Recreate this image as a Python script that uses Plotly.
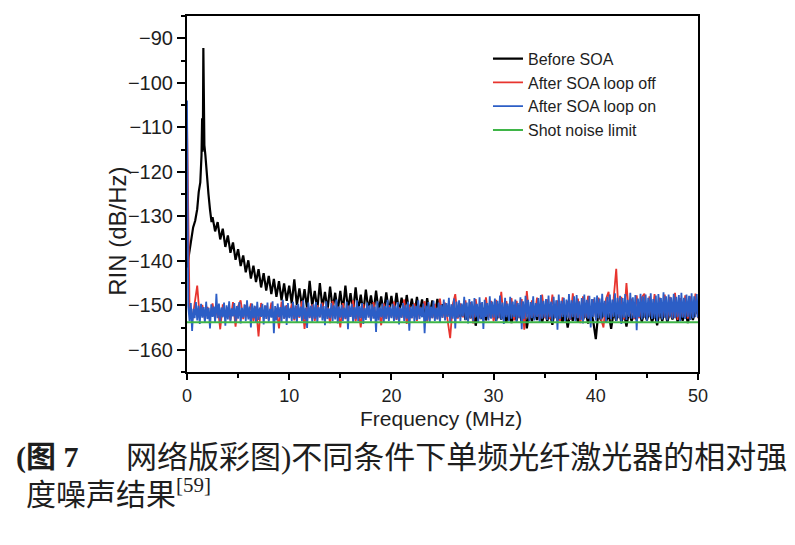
import plotly.graph_objects as go

# analyser frequency bins (MHz)
FREQ_FINE = [round(0.125 * k, 3) for k in range(401)]
FREQ = [round(0.25 * k, 2) for k in range(201)]

# before SOA: extra points around the relaxation peak, then the 0.25 MHz bins from 2.5 MHz
BEFORE_HEAD_FREQ = [0, 0.2, 0.4, 0.6, 0.8, 1.0, 1.15, 1.3, 1.42, 1.48, 1.52, 1.56, 1.6, 1.64, 1.7,
                    1.8, 1.95, 2.1, 2.25, 2.4]
BEFORE_HEAD_RIN = [-141.5, -138.7, -136.0, -132.5, -131.0, -128.4, -124.5, -122.4, -116.3, -108.0,
                   -115.5, -110.0, -92.2, -106.0, -114.0, -116.3, -121.5, -125.0, -128.5, -131.3]
BEFORE_RIN = [
    -130.2, -133.4, -131.3, -135.2, -132.8, -136.9, -134.3, -138.2, -135.9, -139.8,
    -137.4, -141.2, -138.8, -142.6, -139.9, -144.0, -141.1, -144.8, -141.9, -146.0,
    -142.8, -146.7, -143.4, -147.5, -144.1, -148.1, -144.6, -148.9, -145.1, -149.0,
    -145.6, -149.6, -144.2, -150.0, -146.2, -150.3, -146.4, -150.7, -144.5, -150.2,
    -146.8, -150.9, -145.0, -150.6, -147.0, -151.1, -145.8, -150.8, -147.2, -151.3,
    -146.8, -151.4, -145.6, -151.0, -147.3, -151.5, -146.0, -151.2, -147.6, -151.7,
    -146.5, -151.1, -147.8, -151.6, -146.7, -151.4, -148.0, -151.8, -147.1, -151.5,
    -147.9, -151.9, -147.2, -151.6, -148.3, -152.1, -147.7, -151.8, -148.5, -152.3,
    -148.1, -152.0, -148.7, -152.5, -148.4, -152.1, -148.9, -152.7, -148.6, -152.4,
    -149.8, -152.4, -150.2, -152.8, -149.9, -153.0, -150.5, -152.6, -150.3, -153.3,
    -150.7, -152.9, -150.4, -154.6, -150.9, -153.1, -150.6, -153.4, -151.0, -152.8,
    -151.0, -153.5, -150.8, -153.2, -151.3, -153.8, -150.9, -154.0, -151.5, -153.4,
    -151.2, -153.9, -150.7, -155.2, -151.4, -153.6, -151.1, -153.3, -151.6, -153.9,
    -151.2, -153.6, -151.5, -154.4, -150.9, -153.4, -151.7, -153.8, -151.3, -155.0,
    -151.6, -153.5, -151.0, -153.9, -151.8, -153.3, -151.4, -154.1, -151.1, -153.6,
    -157.6, -151.5, -153.4, -151.2, -153.8, -151.7, -155.3, -151.4, -153.5, -150.9,
    -153.9, -151.6, -154.8, -151.3, -153.6, -151.8, -153.3, -151.0, -153.7, -151.5,
    -153.4, -151.2, -153.9, -151.6, -154.5, -151.3, -153.6, -151.0, -153.8, -151.5,
    -153.2, -150.8, -153.7, -151.4, -153.5, -151.1, -154.0, -151.6, -153.3, -151.2,
    -152.0,
]

# after SOA, loop off (0.25 MHz bins)
LOOP_OFF_RIN = [
    -108.0,
    -151.0, -153.5, -149.5, -145.6, -152.8, -149.9, -153.2, -150.4, -152.6, -149.6,
    -153.0, -150.2, -155.4, -149.8, -152.9, -150.5, -153.4, -149.3, -154.8, -150.2,
    -148.9, -153.1, -150.0, -152.7, -149.6, -153.6, -150.3, -157.0, -149.5, -152.8,
    -150.1, -153.3, -149.4, -152.9, -150.6, -155.2, -149.2, -153.0, -150.0, -152.6,
    -149.7, -153.4, -150.2, -152.8, -149.1, -155.3, -150.4, -152.9, -149.8, -153.5,
    -150.0, -152.7, -149.4, -153.2, -150.5, -154.0, -149.0, -152.9, -150.3, -155.0,
    -149.5, -153.1, -150.1, -152.6, -148.9, -153.6, -150.4, -155.0, -149.7, -152.8,
    -150.2, -153.4, -149.3, -152.9, -150.6, -154.5, -149.6, -153.0, -150.0, -152.7,
    -149.2, -153.3, -150.5, -152.8, -148.7, -154.2, -150.0, -152.9, -149.6, -153.5,
    -150.3, -152.6, -149.1, -153.7, -150.4, -152.9, -149.7, -153.1, -148.5, -152.8,
    -149.4, -153.2, -157.4, -149.8, -147.5, -153.0, -149.6, -152.7, -148.9, -153.5,
    -149.3, -154.1, -148.6, -152.9, -149.5, -153.3, -148.2, -152.8, -149.0, -153.6,
    -148.8, -152.9, -147.0, -153.2, -149.1, -152.7, -148.4, -153.4, -149.0, -152.8,
    -148.6, -155.5, -146.8, -153.0, -148.9, -152.6, -148.3, -153.3, -147.6, -152.9,
    -148.7, -153.1, -147.6, -152.8, -148.9, -153.5, -148.2, -152.7, -149.0, -153.3,
    -147.3, -152.9, -148.5, -154.0, -148.0, -152.8, -147.9, -153.2, -148.6, -152.7,
    -148.3, -153.0, -155.0, -148.6, -147.0, -152.9, -148.4, -141.8, -152.8, -148.1,
    -153.2, -145.0, -152.6, -148.5, -153.1, -147.8, -152.9, -148.2, -147.4, -153.0,
    -148.0, -152.8, -147.5, -153.1, -148.3, -152.7, -147.6, -153.0, -148.1, -152.9,
    -147.2, -153.3, -148.4, -152.6, -147.8, -153.0, -148.0, -152.8, -147.4, -152.9,
]

# after SOA, loop on (0.125 MHz bins)
LOOP_ON_RIN = [
    -104.0,
    -150.2, -153.6, -149.5, -155.8, -150.8, -152.9, -149.3, -153.4, -150.1, -154.2,
    -149.7, -152.8, -150.4, -153.9, -149.2, -153.1, -150.6, -155.2, -149.8, -152.6,
    -150.3, -153.8, -147.4, -152.9, -149.6, -153.5, -150.5, -152.7, -149.4, -154.6,
    -150.0, -153.2, -149.1, -153.7, -150.7, -152.5, -149.5, -153.9, -150.2, -153.0,
    -149.3, -154.1, -150.6, -152.8, -149.8, -153.5, -148.9, -153.2, -150.3, -155.0,
    -149.6, -152.9, -150.1, -153.8, -149.2, -153.3, -150.5, -152.6, -149.7, -154.3,
    -150.0, -153.1, -149.4, -153.7, -150.8, -152.8, -149.1, -156.3, -150.2, -153.4,
    -149.6, -152.7, -150.4, -153.9, -148.8, -153.0, -150.1, -154.4, -149.5, -152.9,
    -150.6, -153.5, -149.2, -153.1, -150.0, -154.0, -149.7, -152.6, -150.3, -153.6,
    -148.9, -153.2, -150.5, -155.1, -149.4, -152.8, -150.1, -153.7, -149.8, -153.0,
    -149.3, -153.9, -150.4, -152.7, -149.6, -153.4, -150.2, -154.5, -149.1, -153.1,
    -150.7, -152.9, -149.5, -153.6, -150.0, -153.2, -148.7, -154.1, -150.3, -152.8,
    -149.9, -153.5, -150.5, -153.0, -149.2, -155.4, -150.1, -152.6, -149.7, -153.8,
    -150.4, -153.1, -148.9, -153.6, -150.2, -152.9, -149.5, -154.2, -150.6, -153.3,
    -149.4, -152.8, -150.0, -153.7, -149.8, -153.0, -150.3, -156.0, -149.1, -153.4,
    -150.5, -152.7, -149.6, -153.9, -150.2, -153.1, -148.8, -153.5, -150.4, -152.9,
    -149.7, -153.6, -150.1, -153.2, -149.3, -154.3, -150.6, -152.8, -149.5, -153.5,
    -150.0, -153.0, -149.2, -155.7, -150.4, -152.9, -149.8, -153.7, -150.2, -153.3,
    -148.9, -153.1, -150.5, -152.7, -149.6, -156.3, -150.1, -153.4, -149.3, -153.8,
    -150.3, -152.9, -149.0, -153.5, -150.6, -153.2, -149.4, -154.0, -149.9, -152.8,
    -148.7, -153.4, -149.5, -152.6, -148.3, -153.9, -149.8, -153.0, -148.5, -155.2,
    -149.2, -152.8, -148.9, -153.6, -149.6, -152.5, -148.1, -153.3, -149.4, -154.1,
    -148.6, -152.9, -149.1, -153.5, -148.4, -152.7, -149.7, -153.8, -148.2, -153.1,
    -149.3, -155.3, -148.8, -152.6, -149.5, -153.4, -148.0, -153.0, -149.2, -152.8,
    -148.5, -153.6, -149.0, -152.9, -147.8, -153.2, -149.4, -154.2, -148.3, -152.7,
    -149.6, -153.5, -148.1, -153.0, -149.2, -152.6, -148.7, -153.9, -149.5, -152.8,
    -148.2, -155.4, -149.1, -153.1, -147.9, -152.7, -148.8, -153.6, -149.3, -152.9,
    -148.0, -153.4, -149.5, -152.6, -148.4, -154.0, -147.7, -153.0, -149.0, -152.8,
    -148.6, -153.3, -147.8, -152.7, -149.2, -153.8, -148.1, -152.9, -148.9, -155.5,
    -147.6, -153.1, -149.0, -152.6, -148.3, -153.5, -148.7, -152.8, -147.5, -153.2,
    -148.9, -152.7, -148.0, -153.6, -147.7, -152.9, -149.1, -153.3, -148.4, -154.1,
    -147.6, -152.8, -148.8, -153.0, -147.9, -155.0, -148.6, -152.6, -148.2, -153.4,
    -147.8, -152.9, -148.5, -153.2, -147.4, -152.7, -149.0, -153.7, -148.1, -152.8,
    -147.6, -153.1, -148.7, -152.6, -147.3, -153.5, -148.3, -152.9, -147.9, -154.2,
    -148.4, -152.8, -147.5, -153.3, -148.8, -152.6, -147.2, -153.0, -148.2, -152.9,
    -147.7, -155.6, -148.5, -152.7, -147.4, -153.2, -148.0, -152.8, -147.6, -153.5,
    -148.3, -152.6, -147.3, -153.1, -148.6, -152.9, -147.8, -154.0, -147.5, -152.7,
    -148.4, -153.2, -147.1, -152.8, -148.0, -153.4, -147.6, -152.6, -148.2, -153.0,
    -147.4, -152.9, -148.1, -152.7, -147.7, -153.6, -147.2, -152.8, -148.3, -153.1,
    -147.6, -152.6, -147.9, -153.3, -147.3, -152.9, -148.0, -152.7, -147.5, -152.8,
]

SHOT_NOISE_FREQ = [0, 50]
SHOT_NOISE_RIN = [-153.8, -153.8]

Y_TICKS = [-160, -150, -140, -130, -120, -110, -100, -90]
Y_TICK_LABELS = ["\u2212160", "\u2212150", "\u2212140", "\u2212130", "\u2212120", "\u2212110",
                 "\u2212100", "\u221290"]
X_TICKS = [0, 10, 20, 30, 40, 50]

FONT = "Liberation Sans, Arial, sans-serif"
CAPTION_FONT = "Liberation Serif, Noto Sans CJK SC, serif"
TEXT_COLOR = "#1e1e1e"

fig = go.Figure()

fig.add_trace(go.Scatter(
    x=BEFORE_HEAD_FREQ + FREQ[10:], y=BEFORE_HEAD_RIN + BEFORE_RIN,
    mode="lines", name="Before SOA", line=dict(color="#000000", width=2.2),
))
fig.add_trace(go.Scatter(
    x=FREQ, y=LOOP_OFF_RIN, mode="lines", name="After SOA loop off",
    line=dict(color="#e8342e", width=1.8),
))
fig.add_trace(go.Scatter(
    x=FREQ_FINE, y=LOOP_ON_RIN, mode="lines", name="After SOA loop on",
    line=dict(color="#2c5ec6", width=1.8),
))
fig.add_trace(go.Scatter(
    x=SHOT_NOISE_FREQ, y=SHOT_NOISE_RIN, mode="lines", name="Shot noise limit",
    line=dict(color="#3fb548", width=2),
))

axis_style = dict(
    showline=True, linecolor="black", linewidth=2, mirror=True,
    ticks="outside", tickwidth=2, tickcolor="black",
    showgrid=False, zeroline=False,
    minor=dict(ticks="outside", ticklen=4, tickwidth=2, tickcolor="black", dtick=5),
)

fig.update_xaxes(range=[0, 50], tickvals=X_TICKS, ticklen=6,
                 tickfont=dict(family=FONT, size=18, color=TEXT_COLOR), **axis_style)
fig.update_yaxes(range=[-165, -85], tickvals=Y_TICKS, ticktext=Y_TICK_LABELS, ticklen=8,
                 tickfont=dict(family=FONT, size=20, color=TEXT_COLOR),
                 layer="below traces", **axis_style)

fig.update_layout(
    width=779, height=529,
    margin=dict(l=179, r=89, t=6, b=165),
    paper_bgcolor="white", plot_bgcolor="white",
    showlegend=True,
    legend=dict(
        x=0.589, y=0.928, xanchor="left", yanchor="top",
        bgcolor="rgba(0,0,0,0)", borderwidth=0,
        font=dict(family=FONT, size=16, color=TEXT_COLOR),
        itemwidth=30, tracegroupgap=0,
    ),
    annotations=[
        # axis titles
        dict(text="RIN (dB/Hz)", x=-0.135, y=0.394, xref="paper", yref="paper",
             textangle=-90, xanchor="center", yanchor="middle", showarrow=False,
             font=dict(family=FONT, size=24, color=TEXT_COLOR)),
        dict(text="Frequency (MHz)", x=0.498, y=-0.131, xref="paper", yref="paper",
             xanchor="center", yanchor="middle", showarrow=False,
             font=dict(family=FONT, size=21, color=TEXT_COLOR)),
        # figure caption
        dict(text="<b>(图 7</b>", x=-0.3385, y=-0.240, xref="paper", yref="paper",
             xanchor="left", yanchor="middle", showarrow=False,
             font=dict(family=CAPTION_FONT, size=30, color=TEXT_COLOR)),
        dict(text="网络版彩图)不同条件下单频光纤激光器的相对强", x=-0.1233, y=-0.240,
             xref="paper", yref="paper", xanchor="left", yanchor="middle", showarrow=False,
             font=dict(family=CAPTION_FONT, size=31, color=TEXT_COLOR)),
        dict(text="度噪声结果<sup>[59]</sup>", x=-0.319, y=-0.337, xref="paper", yref="paper",
             xanchor="left", yanchor="middle", showarrow=False,
             font=dict(family=CAPTION_FONT, size=30, color=TEXT_COLOR)),
    ],
)

fig.write_html("out.html")
